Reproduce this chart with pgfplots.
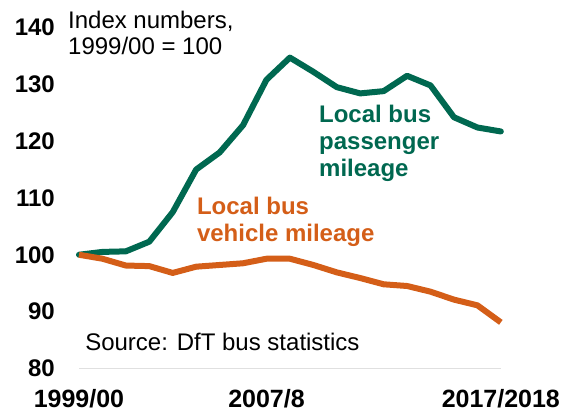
\documentclass[border=0pt]{standalone}
\usepackage{pgfplots}
\pgfplotsset{compat=1.18}
\usepackage{fontspec}
\setmainfont{Liberation Sans}

\definecolor{busgreen}{RGB}{0,104,80}
\definecolor{busorange}{RGB}{212,94,24}

\begin{document}
\begin{tikzpicture}
\begin{axis}[
    scale only axis,
    width=422bp, height=341bp,
    xmin=0, xmax=18, ymin=80, ymax=140,
    clip=false,
    axis lines*=left,
    y axis line style={draw=none},
    x axis line style={draw=black!12, line width=1.2bp},
    major tick length=0pt,
    xtick={0,8,18},
    xticklabels={1999/00,2007/8,2017/2018},
    ytick={80,90,...,140},
    /pgf/number format/assume math mode=true,
    yticklabel style={font=\fontsize{24bp}{28bp}\selectfont\bfseries, inner sep=0pt,
                      anchor=east, xshift=-24bp},
    xticklabel style={font=\fontsize{25bp}{29bp}\selectfont\bfseries, inner sep=0pt,
                      anchor=north, yshift=-21bp},
]

% invisible frame to keep the reference margins
\path (axis cs:-3.37,72.4) rectangle (axis cs:21.42,144.84);

% passenger mileage
\addplot[color=busgreen, line width=6bp, line join=round, line cap=round] coordinates {
    (0,100)(1,100.5)(2,100.6)(3,102.3)(4,107.5)(5,115)(6,118)(7,122.8)(8,130.8)(9,134.7)
    (10,132.2)(11,129.5)(12,128.4)(13,128.8)(14,131.5)(15,129.8)(16,124.2)(17,122.4)(18,121.7)
};

% vehicle mileage
\addplot[color=busorange, line width=6bp, line join=round] coordinates {
    (0,100)(1,99.3)(2,98.1)(3,98.0)(4,96.8)(5,97.9)(6,98.2)(7,98.5)(8,99.3)(9,99.3)
    (10,98.2)(11,96.9)(12,95.9)(13,94.8)(14,94.5)(15,93.5)(16,92.1)(17,91.1)(18,88.1)
};

% anchors are at the baseline of the last line
\node[anchor=base west, align=left, inner sep=0pt,
      font=\fontsize{24bp}{26bp}\selectfont]
    at (axis cs:-0.47,135.17) {Index numbers,\\1999/00 = 100};

\node[anchor=base west, align=left, inner sep=0pt, text=busgreen,
      font=\fontsize{24bp}{27bp}\selectfont\bfseries]
    at (axis cs:10.24,113.7) {Local bus\\passenger\\mileage};

\node[anchor=base west, align=left, inner sep=0pt, text=busorange,
      font=\fontsize{24bp}{27bp}\selectfont\bfseries]
    at (axis cs:5.03,102.26) {Local bus\\vehicle mileage};

\node[anchor=base west, inner sep=0pt, font=\fontsize{24bp}{28bp}\selectfont]
    at (axis cs:0.26,83.1) {Source: DfT bus statistics};

\end{axis}
\end{tikzpicture}
\end{document}
